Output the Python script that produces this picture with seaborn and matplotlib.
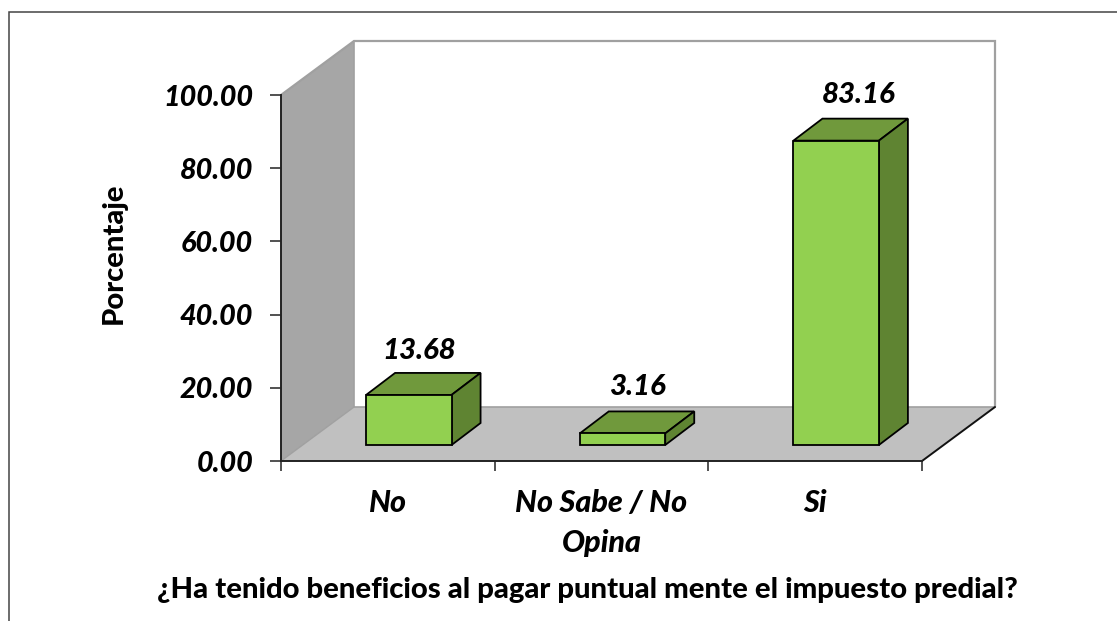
import matplotlib
matplotlib.use('Agg')
import matplotlib.pyplot as plt
import pandas as pd
import seaborn as sns
from matplotlib.patches import Polygon, Rectangle

categories = ['No', 'No Sabe / No\nOpina', 'Si']
values = [13.68, 3.16, 83.16]
value_labels = ['13.68', '3.16', '83.16']
y_ticks = [0, 20, 40, 60, 80, 100]
# value labels are not centred the same way on each bar in the original (px)
label_nudge_x = [10, 15, 23]
label_nudge_y = [9, 11, 11]

W, H = 1117, 621
sns.set_theme(style='white')
plt.rcParams['font.family'] = ['Lato', 'DejaVu Sans']

fig = plt.figure(figsize=(W / 100, H / 100), dpi=100)
# front plane of the fake 3D box, in pixels
left, right, top, bottom = 281, 922, 95, 461
ax = fig.add_axes([left / W, 1 - bottom / H, (right - left) / W, (bottom - top) / H])

df = pd.DataFrame({'cat': categories, 'val': values})
sns.barplot(data=df, x='cat', y='val', ax=ax, color='#92D050', saturation=1,
            width=0.4, edgecolor='black', linewidth=1.3, zorder=5)
ax.set_xlim(-0.5, 2.5)
ax.set_ylim(0, 100)

# pixels -> data units
px_x = 3 / (right - left)
px_y = 100 / (bottom - top)
wall_dx, wall_dy = 73 * px_x, 54 * px_y   # depth of the room
bar_dx, bar_dy = 29 * px_x, 22 * px_y     # depth of each bar
shift_x, shift_y = 21 * px_x, 16 * px_y   # bars sit in the middle of the floor

x0, x1 = ax.get_xlim()


def poly(pts, fc, ec='none', lw=0.0, z=1):
    ax.add_patch(Polygon(pts, closed=True, facecolor=fc, edgecolor=ec, linewidth=lw,
                         zorder=z, clip_on=False, joinstyle='miter'))


bars = [p for p in ax.patches if isinstance(p, Rectangle)]

# side wall, floor, back wall outline
poly([(x0, 0), (x0 + wall_dx, wall_dy), (x0 + wall_dx, 100 + wall_dy), (x0, 100)], '#A6A6A6', z=1)
poly([(x0, 0), (x1, 0), (x1 + wall_dx, wall_dy), (x0 + wall_dx, wall_dy)], '#C0C0C0', z=1)
ax.plot([x0, x0 + wall_dx, x1 + wall_dx, x1 + wall_dx],
        [100, 100 + wall_dy, 100 + wall_dy, wall_dy],
        color='#A0A0A0', lw=1.6, clip_on=False, zorder=2, solid_joinstyle='miter')
ax.plot([x0 + wall_dx, x0 + wall_dx, x1 + wall_dx], [100 + wall_dy, wall_dy, wall_dy],
        color='#A0A0A0', lw=1.2, clip_on=False, zorder=2)
ax.plot([x0, x0 + wall_dx], [0, wall_dy], color='#A0A0A0', lw=1.0, clip_on=False, zorder=2)
ax.plot([x1, x1 + wall_dx], [0, wall_dy], color='#111111', lw=1.4, clip_on=False, zorder=3)

# move the seaborn bars back and add their top and side faces
for rect, label, nx, ny in zip(bars, value_labels, label_nudge_x, label_nudge_y):
    rect.set_clip_on(False)
    xa, w, h = rect.get_x() + shift_x, rect.get_width(), rect.get_height()
    xb = xa + w
    rect.set_x(xa)
    rect.set_y(shift_y)
    base, tp = shift_y, h + shift_y
    poly([(xa, tp), (xb, tp), (xb + bar_dx, tp + bar_dy), (xa + bar_dx, tp + bar_dy)],
         '#70993C', 'black', 1.3, 4)
    poly([(xb, base), (xb + bar_dx, base + bar_dy), (xb + bar_dx, tp + bar_dy), (xb, tp)],
         '#5F8432', 'black', 1.3, 4)
    ax.text((xa + xb) / 2 + nx * px_x, tp + bar_dy + ny * px_y, label, ha='center', va='bottom',
            fontsize=21.2, fontweight=900, fontstyle='italic', color='black')

sns.despine(ax=ax, top=True, right=True)
for side in ['left', 'bottom']:
    ax.spines[side].set_color('#222222')
    ax.spines[side].set_linewidth(1.4)
    ax.spines[side].set_zorder(3)

ax.set_yticks(y_ticks)
ax.set_yticklabels([f'{v:.2f}' for v in y_ticks], fontsize=20.7, fontweight=900, fontstyle='italic', color='black')
ax.tick_params(axis='y', length=8, width=1.2, color='#333333', left=True, pad=12)

ax.set_xticks([-0.5, 0.5, 1.5, 2.5], minor=True)
ax.tick_params(axis='x', which='minor', length=7, width=1.2, color='#333333', bottom=True)
ax.tick_params(axis='x', which='major', length=0, pad=20)
ax.set_xticklabels(categories, fontsize=22, fontweight=900, fontstyle='italic', color='black', linespacing=1.52)

fig.text(587 / W, 1 - 590 / H, '¿Ha tenido beneficios al pagar puntual mente el impuesto predial?',
         fontsize=21.1, fontweight=900, color='black', ha='center', va='center')
ax.set_xlabel('')
ax.set_ylabel('')
fig.text(114 / W, 1 - 253 / H, 'Porcentaje', fontsize=21, fontweight=900, color='black',
         rotation=90, ha='center', va='center')
ax.set_facecolor('none')

# outer chart frame, cut off by the image edge at right and bottom
fig.add_artist(Rectangle((9.5 / W, -0.05), 1.2, 1.05 - 11.5 / H, transform=fig.transFigure,
                         facecolor='none', edgecolor='#444444', linewidth=1.1))

fig.savefig('out.png', dpi=100)
